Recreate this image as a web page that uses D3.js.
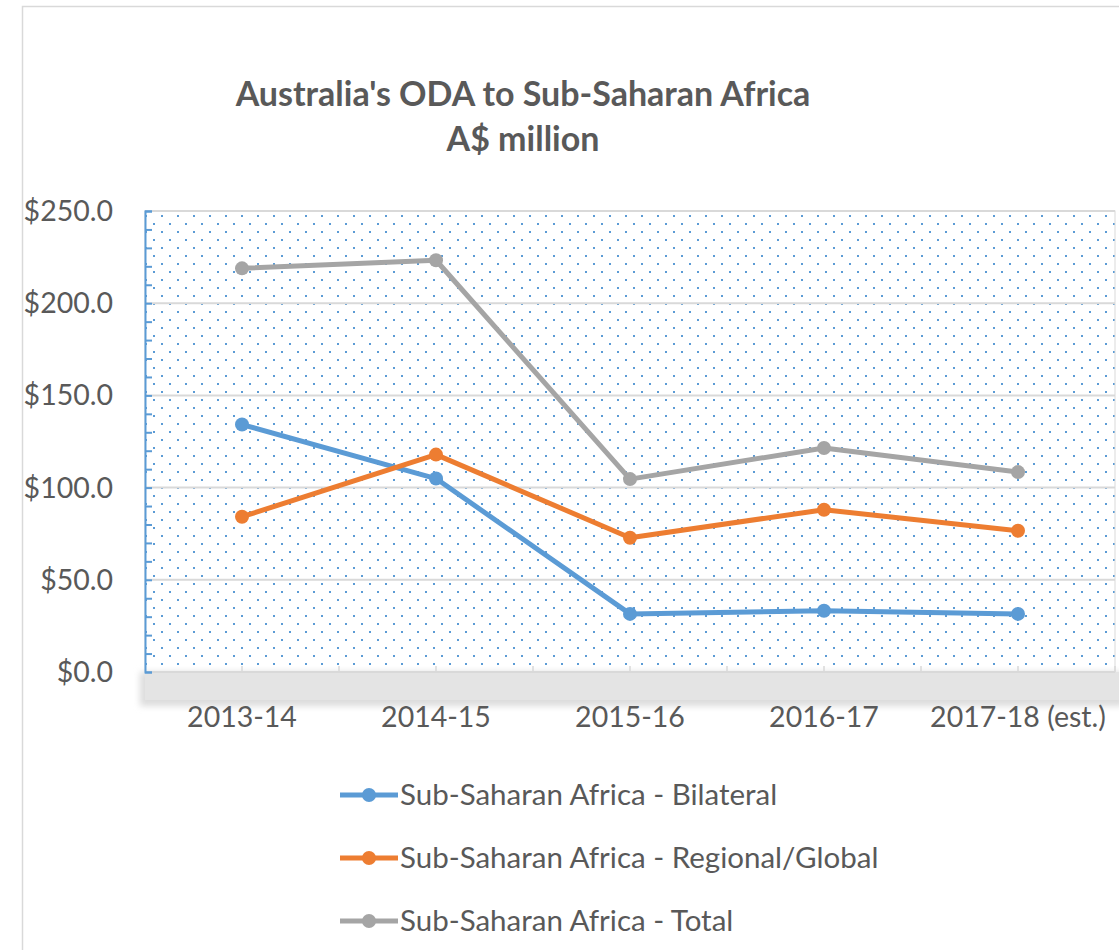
<!DOCTYPE html>
<html lang="en">
<head>
  <meta charset="UTF-8">
  <title>Australia's ODA to Sub-Saharan Africa</title>
  <script src="https://cdn.jsdelivr.net/npm/d3@7"></script>
  <style>
    body { margin: 0; background: #fff; }
    text { font-family: Lato, "Open Sans", sans-serif; fill: #595959; }
  </style>
</head>
<body>
  <script>
    // data
    const years = ["2013-14", "2014-15", "2015-16", "2016-17", "2017-18 (est.)"];
    const bilateral = [134.2, 104.9, 31.5, 33.2, 31.5];
    const regional = [84.2, 117.9, 72.8, 88.0, 76.6];
    const total = [218.9, 223.3, 104.6, 121.5, 108.4];
    const yTicks = [0, 50, 100, 150, 200, 250];

    const seriesNames = ["Sub-Saharan Africa - Bilateral", "Sub-Saharan Africa - Regional/Global", "Sub-Saharan Africa - Total"];
    const seriesColors = ["#5b9bd5", "#ed7d31", "#a5a5a5"];
    const seriesValues = [bilateral, regional, total];

    const W = 1119, H = 950;
    const plotL = 145, plotR = 1115, plotT = 211, plotB = 672;

    const svg = d3.select("body").append("svg")
      .attr("width", W).attr("height", H);

    const defs = svg.append("defs");

    // dotted fill of the plot area
    const pat = defs.append("pattern")
      .attr("id", "dots")
      .attr("patternUnits", "userSpaceOnUse")
      .attr("x", 1).attr("y", 7)
      .attr("width", 16).attr("height", 16);
    pat.append("rect").attr("x", 0).attr("y", 0).attr("width", 2).attr("height", 2).attr("fill", "#5b9bd5");
    pat.append("rect").attr("x", 8).attr("y", 8).attr("width", 2).attr("height", 2).attr("fill", "#5b9bd5");

    const blur = defs.append("filter").attr("id", "soft")
      .attr("x", "-5%").attr("y", "-50%").attr("width", "110%").attr("height", "200%");
    blur.append("feGaussianBlur").attr("stdDeviation", 3);

    // chart frame
    svg.append("rect")
      .attr("x", 22.5).attr("y", 6.5)
      .attr("width", 1200).attr("height", 1000)
      .attr("fill", "none").attr("stroke", "#d9d9d9").attr("stroke-width", 1.5);

    // scales
    const x = d3.scaleBand().domain(years).range([plotL, plotR]);
    const y = d3.scaleLinear().domain([0, 250]).range([plotB, plotT]);
    const cx = d => x(d) + x.bandwidth() / 2;

    // floor under the plot
    svg.append("rect")
      .attr("x", plotL - 5).attr("y", plotB)
      .attr("width", W - plotL + 10).attr("height", 34)
      .attr("fill", "#dcdcdc").attr("filter", "url(#soft)");
    svg.append("rect")
      .attr("x", plotL).attr("y", plotB)
      .attr("width", W - plotL).attr("height", 28)
      .attr("fill", "#e4e4e4");

    // plot area
    svg.append("rect")
      .attr("x", plotL).attr("y", plotT)
      .attr("width", plotR - plotL).attr("height", plotB - plotT)
      .attr("fill", "url(#dots)")
      .attr("stroke", "#d9d9d9").attr("stroke-width", 1);

    // gridlines
    svg.append("g").selectAll("line")
      .data(yTicks)
      .join("line")
      .attr("x1", plotL).attr("x2", plotR)
      .attr("y1", d => y(d)).attr("y2", d => y(d))
      .attr("stroke", "#d9d9d9").attr("stroke-width", 2);

    // left axis with inward minor ticks
    const yAxis = d3.axisRight(y)
      .tickValues(d3.range(0, 251, 10))
      .tickSize(7)
      .tickFormat("");
    const ya = svg.append("g")
      .attr("transform", `translate(${plotL},0)`)
      .call(yAxis);
    ya.selectAll("path, line").attr("stroke", "#5b9bd5").attr("stroke-width", 2);

    // y labels
    svg.append("g").selectAll("text")
      .data(yTicks)
      .join("text")
      .attr("x", 113).attr("y", d => y(d))
      .attr("dy", "0.35em")
      .attr("text-anchor", "end")
      .attr("font-size", 28.5)
      .text(d => "$" + d.toFixed(1));

    // small category ticks on the bottom edge
    const xTicks = [];
    years.forEach(d => { xTicks.push(cx(d)); xTicks.push(x(d) + x.bandwidth()); });
    svg.append("g").selectAll("line")
      .data(xTicks)
      .join("line")
      .attr("x1", d => d).attr("x2", d => d)
      .attr("y1", plotB - 6).attr("y2", plotB)
      .attr("stroke", "#d9d9d9").attr("stroke-width", 1.5);

    // x labels
    svg.append("g").selectAll("text")
      .data(years)
      .join("text")
      .attr("x", d => cx(d)).attr("y", 727)
      .attr("text-anchor", "middle")
      .attr("font-size", 28.5)
      .text(d => d);

    // lines and markers
    const line = d3.line()
      .x((d, i) => cx(years[i]))
      .y(d => y(d));

    seriesValues.forEach((vals, k) => {
      svg.append("path")
        .datum(vals)
        .attr("d", line)
        .attr("fill", "none")
        .attr("stroke", seriesColors[k])
        .attr("stroke-width", 5)
        .attr("stroke-linejoin", "round");
      svg.append("g").selectAll("circle")
        .data(vals)
        .join("circle")
        .attr("cx", (d, i) => cx(years[i]))
        .attr("cy", d => y(d))
        .attr("r", 7)
        .attr("fill", seriesColors[k]);
    });

    // title
    svg.append("text")
      .attr("x", 523).attr("y", 106)
      .attr("text-anchor", "middle")
      .attr("font-size", 34).attr("font-weight", "bold")
      .text("Australia's ODA to Sub-Saharan Africa");
    svg.append("text")
      .attr("x", 523).attr("y", 151)
      .attr("text-anchor", "middle")
      .attr("font-size", 34).attr("font-weight", "bold")
      .text("A$ million");

    // legend
    const legendY = [795, 858, 921];
    const lg = svg.append("g").selectAll("g")
      .data(seriesNames)
      .join("g")
      .attr("transform", (d, i) => `translate(340,${legendY[i]})`);
    lg.append("line")
      .attr("x1", 0).attr("x2", 58)
      .attr("stroke", (d, i) => seriesColors[i])
      .attr("stroke-width", 5);
    lg.append("circle")
      .attr("cx", 29).attr("r", 7)
      .attr("fill", (d, i) => seriesColors[i]);
    lg.append("text")
      .attr("x", 60).attr("dy", "0.35em")
      .attr("font-size", 29.5)
      .text(d => d);
  </script>
</body>
</html>
